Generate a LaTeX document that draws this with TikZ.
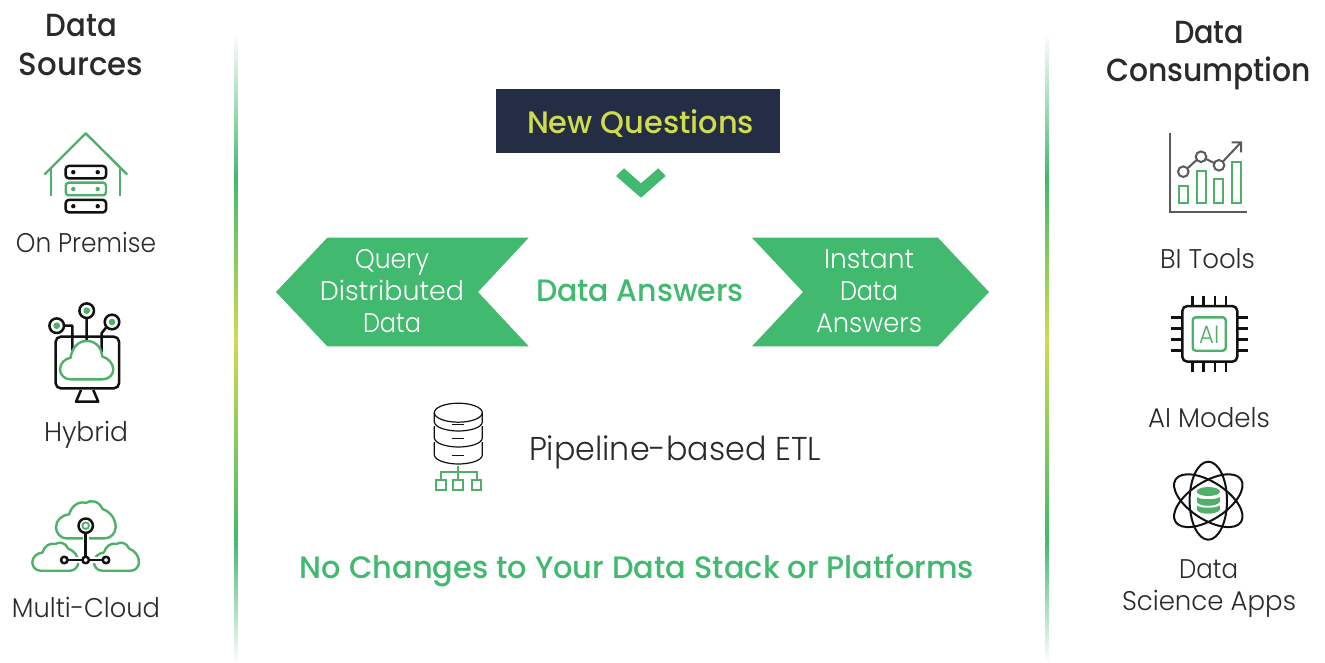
\documentclass[tikz,border=0pt]{standalone}
\usepackage{fontspec}
\newfontfamily\lt{Poppins}[UprightFont=* Light]
\newfontfamily\md{Poppins}[UprightFont=* Medium]
\newcommand\tw[2]{\resizebox{#1pt}{\height}{#2}}
\definecolor{grn}{HTML}{41B96E}
\definecolor{icg}{HTML}{4FB06A}
\definecolor{ylw}{HTML}{CFDC4B}
\definecolor{navy}{HTML}{252D44}
\definecolor{ink}{HTML}{2A2A2A}
\definecolor{blk}{HTML}{111111}
\definecolor{gry}{HTML}{5A5A5A}
\newcommand\cloudA{(20,100) .. controls (8,100) and (0,88) .. (0,74) .. controls (0,58) and (10,45) .. (20,44) .. controls (22,18) and (34,0) .. (50,0) .. controls (68,0) and (78,18) .. (79,40) .. controls (92,46) and (100,60) .. (100,74) .. controls (100,88) and (92,100) .. (80,100) -- cycle}
\newcommand\cloudB{(18,100) .. controls (6,100) and (0,84) .. (0,70) .. controls (0,52) and (10,38) .. (22,36) .. controls (26,14) and (38,0) .. (50,6) .. controls (58,-3) and (72,0) .. (78,22) .. controls (92,30) and (100,50) .. (100,70) .. controls (100,86) and (92,100) .. (82,100) -- cycle}
\tikzset{
  x=1pt,y=-1pt,
  lbl/.style={anchor=base,inner sep=0pt,outer sep=0pt,text=ink,font=\lt\fontsize{27}{27}\selectfont},
  head/.style={anchor=base,inner sep=0pt,outer sep=0pt,text=ink,font=\md\fontsize{32}{32}\selectfont},
  onarrow/.style={lbl,text=white},
  greenhead/.style={anchor=base,inner sep=0pt,outer sep=0pt,text=grn,font=\md\fontsize{31}{31}\selectfont},
  gline/.style={draw=icg,line width=2.4pt,line join=round},
  kline/.style={draw=blk,line width=2.5pt,line join=round},
  gyline/.style={draw=gry,line width=2pt},
  thin g/.style={draw=icg,line width=1.8pt},
  arrowfill/.style={fill=grn,draw=none},
}
\newcommand\divider[1]{%
  \shade[top color=white,bottom color=grn] (#1-1.5,32) rectangle (#1+1.5,178.3);
  \shade[top color=grn,bottom color=ylw] (#1-1.5,178) rectangle (#1+1.5,338.3);
  \shade[top color=ylw,bottom color=grn] (#1-1.5,338) rectangle (#1+1.5,541.3);
  \shade[top color=grn,bottom color=white] (#1-1.5,541) rectangle (#1+1.5,663);
}
\begin{document}
\begin{tikzpicture}
\useasboundingbox (0,0) rectangle (1325,663);
\fill[white] (0,0) rectangle (1325,663);
\divider{236}
\divider{1047}

% left column text
\node[head] (srcA) at (81.5,37) {\tw{71}{Data}};
\node[head] (srcB) at (81,76) {\tw{124}{Sources}};
\node[lbl] (prem) at (86,253) {\tw{140}{On Premise}};
\node[lbl] (hyb) at (86,441) {\tw{84}{Hybrid}};
\node[lbl] (multi) at (86,617) {\tw{148}{Multi-Cloud}};

% right column text
\node[head] (conA) at (1209,44) {\tw{70}{Data}};
\node[head] (conB) at (1208.5,82) {\tw{205}{Consumption}};
\node[lbl] (bi) at (1207.5,269) {\tw{95}{BI Tools}};
\node[lbl] (aim) at (1209,427.5) {\tw{122}{AI Models}};
\node[lbl] (dsA) at (1208.5,578.5) {\tw{59}{Data}};
\node[lbl] (dsB) at (1209,610) {\tw{174}{Science Apps}};

% centre
\fill[navy] (496,89) rectangle (780,153);
\node[anchor=base,inner sep=0pt,text=ylw,font=\md\fontsize{31}{31}\selectfont] (newq) at (640.5,134) {\tw{227}{New Questions}};
\fill[grn] (616,176) -- (624,168.3) -- (641,183.3) -- (658.3,168.3) -- (665.7,176) -- (641,197.7) -- cycle;

\path[arrowfill] (276,292) -- (327.3,237.7) -- (528.7,237.7) -- (478,292) -- (528.7,346.3) -- (327.3,346.3) -- cycle;
\path[arrowfill] (752,237.7) -- (938,237.7) -- (989,292) -- (938,346.3) -- (752,346.3) -- (803,292) -- cycle;
\node[onarrow] (qa) at (392,268) {\tw{74}{Query}};
\node[onarrow] (qb) at (392,300) {\tw{144}{Distributed}};
\node[onarrow] (qc) at (392,332) {\tw{58}{Data}};
\node[onarrow] (ia) at (869,269) {\tw{90}{Instant}};
\node[onarrow] (ib) at (869,300) {\tw{58}{Data}};
\node[onarrow] (ic) at (869,332) {\tw{106}{Answers}};
\node[greenhead] (ans) at (640,301) {\tw{208}{Data Answers}};
\node[lbl,font=\lt\fontsize{33}{33}\selectfont] (etl) at (675,460) {\tw{292}{Pipeline-based ETL}};
\node[greenhead] (nochg) at (637,578) {\tw{674}{No Changes to Your Data Stack or Platforms}};

% database icon
\begin{scope}[draw=blk,line width=1.2pt]
  \draw[blk] (458.3,412.7) ellipse [x radius=24,y radius=9.5];
  \draw[blk] (434.3,412.7) -- (434.3,422) .. controls (435,428) and (448,431) .. (458.3,431) .. controls (469,431) and (482,428) .. (482.3,422) -- (482.3,412.7);
  \draw[blk] (434.3,426) -- (434.3,438) .. controls (435,444) and (448,447) .. (458.3,447) .. controls (469,447) and (482,444) .. (482.3,438) -- (482.3,426);
  \draw[blk] (434.3,442) -- (434.3,455) .. controls (435,461) and (448,464) .. (458.3,464) .. controls (469,464) and (482,461) .. (482.3,455) -- (482.3,442);
  \draw[blk] (452,424.3) -- (464,424.3) (452,438.7) -- (464,438.7) (452,455.7) -- (464,455.7);
\end{scope}
\draw[thin g] (458.3,466) -- (458.3,480) (440.7,480) -- (440.7,472.3) -- (476.7,472.3) -- (476.7,480);
\draw[thin g] (436,480) rectangle (445.7,490) (453.3,480) rectangle (463.3,490) (471.7,480) rectangle (481,490);

% on-premise icon
\draw[gline,line cap=round] (45,174) -- (85.7,133.3) -- (126.7,174);
\draw[gline] (50.7,169) -- (50.7,195.7) (120,169) -- (120,195.7);
\draw[kline,rounded corners=3pt] (65.7,166) rectangle (106,178.3);
\draw[gline,rounded corners=3pt] (65.7,182.7) rectangle (106,195.3);
\draw[kline,rounded corners=3pt] (65.7,200) rectangle (106,212.3);
\fill[blk] (73.3,172.2) circle [radius=2.2] (97.7,172.2) circle [radius=2.2] (73.3,206.2) circle [radius=2.2] (97.7,206.2) circle [radius=2.2];
\fill[icg] (73.3,189) circle [radius=2.2] (97.7,189) circle [radius=2.2];

% hybrid icon
\draw[kline,rounded corners=5pt] (55.7,336.7) rectangle (119,388.3);
\draw[kline] (81,390) -- (76,401.7) -- (98.3,401.7) -- (93.3,390);
\draw[kline] (56.7,325.7) circle [radius=7.3] (86.7,310.7) circle [radius=7.3] (112,322) circle [radius=7.3];
\fill[icg] (56.7,325.7) circle [radius=3.3] (86.7,310.7) circle [radius=3.3] (112,322) circle [radius=3.3];
\draw[kline] (64,325.7) -- (72.3,325.7) -- (72.3,352) (86.7,318) -- (86.7,342) (106.5,327) -- (101.7,333) -- (101.7,352);
\begin{scope}[shift={(60,341)},xscale=.533,yscale=.383]
  \draw[gline,fill=white] \cloudA;
\end{scope}

% multi-cloud icon
\begin{scope}[shift={(56,500.7)},xscale=.597,yscale=.376]
  \draw[gline] \cloudB;
\end{scope}
\begin{scope}[shift={(32.3,542.3)},xscale=.46,yscale=.284]
  \draw[gline] \cloudB;
\end{scope}
\begin{scope}[shift={(94,542.3)},xscale=.45,yscale=.284]
  \draw[gline] \cloudB;
\end{scope}
\draw[white,line width=6pt] (85.7,533) -- (85.7,556);
\draw[white,line width=6pt] (69,560) -- (102,560);
\draw[kline] (85.7,533) -- (85.7,556.7) (67.6,560) -- (82.4,560) (89,560) -- (102.7,560);
\draw[kline] (85.7,525.7) circle [radius=7.2];
\draw[icg,line width=1.8pt] (85.7,525.7) circle [radius=3.3];
\draw[kline] (64.3,560) circle [radius=3.3] (85.7,560) circle [radius=3.3] (106,560) circle [radius=3.3];

% BI icon
\draw[gyline,line join=miter] (1170,133.3) -- (1170,211.7) -- (1247.3,211.7);
\draw[thin g] (1179,185.7) rectangle (1188.3,203.3) (1196.7,170.7) rectangle (1206,203.3) (1214,179.3) rectangle (1223.3,203.3) (1231.7,161.7) rectangle (1241,203.3);
\draw[gyline] (1183.3,171.7) circle [radius=5.3] (1201,156.7) circle [radius=5.3] (1219,165.3) circle [radius=5.3];
\draw[gyline] (1188,168) -- (1196.5,160) (1206,159) -- (1214,163) (1223,161.5) -- (1241,142.3) (1231.7,142.3) -- (1241,142.3) -- (1241,152.3);

% AI chip icon
\draw[kline,rounded corners=5pt] (1182.3,306) rectangle (1237.3,361.7);
\draw[gline,rounded corners=3pt] (1192.7,317.3) rectangle (1225.7,350.7);
\node[anchor=base,inner sep=0pt,text=icg,font=\lt\fontsize{25}{25}\selectfont] (chipai) at (1209.2,343) {\tw{20}{AI}};
\draw[kline] (1192.7,295.7) -- (1192.7,306) (1203.3,295.7) -- (1203.3,306) (1215,295.7) -- (1215,306) (1226,295.7) -- (1226,306)
  (1192.7,361.7) -- (1192.7,372.3) (1203.3,361.7) -- (1203.3,372.3) (1215,361.7) -- (1215,372.3) (1226,361.7) -- (1226,372.3)
  (1171,317.3) -- (1182.3,317.3) (1171,328.3) -- (1182.3,328.3) (1171,339.3) -- (1182.3,339.3) (1171,350.7) -- (1182.3,350.7)
  (1237.3,317.3) -- (1247.7,317.3) (1237.3,328.3) -- (1247.7,328.3) (1237.3,339.3) -- (1247.7,339.3) (1237.3,350.7) -- (1247.7,350.7);

% atom icon
\draw[kline,line width=2pt] (1208.3,500.7) ellipse [x radius=18.7,y radius=39];
\draw[kline,line width=2pt] (1208.3,500.7) ellipse [x radius=39,y radius=18.7,rotate=33];
\draw[kline,line width=2pt] (1208.3,500.7) ellipse [x radius=39,y radius=18.7,rotate=-33];
\fill[icg] (1208.3,491.5) ellipse [x radius=11.7,y radius=4.5];
\fill[icg] (1196.8,497) .. controls (1200,500) and (1216,500) .. (1219.8,497) -- (1219.8,502) .. controls (1216,507) and (1200,507) .. (1196.8,502) -- cycle;
\fill[icg] (1196.8,505.5) .. controls (1200,508.5) and (1216,508.5) .. (1219.8,505.5) -- (1219.8,510) .. controls (1216,515) and (1200,515) .. (1196.8,510) -- cycle;
\end{tikzpicture}
\end{document}
